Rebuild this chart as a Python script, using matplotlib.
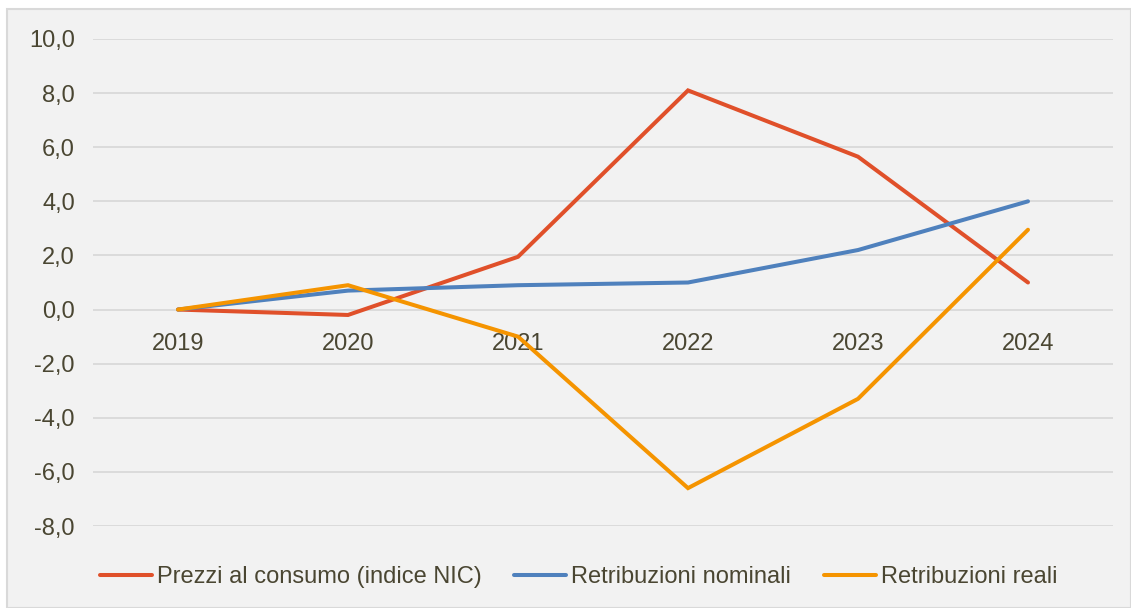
import matplotlib
matplotlib.use("Agg")
import matplotlib.pyplot as plt
from matplotlib.patches import Rectangle

years = ["2019", "2020", "2021", "2022", "2023", "2024"]
prezzi = [0.0, -0.2, 1.95, 8.1, 5.65, 1.0]
nominali = [0.0, 0.7, 0.9, 1.0, 2.2, 4.0]
reali = [0.0, 0.9, -1.0, -6.6, -3.3, 2.95]
series_names = ["Prezzi al consumo (indice NIC)", "Retribuzioni nominali", "Retribuzioni reali"]
yticks = [-8, -6, -4, -2, 0, 2, 4, 6, 8, 10]

plt.rcParams['font.family'] = ['Liberation Sans', 'DejaVu Sans']
txt = '#4a4632'
bg = '#f2f2f2'

fig = plt.figure(figsize=(11.31, 6.08), dpi=100)
fig.patch.set_facecolor('white')
fig.patches.append(Rectangle((7/1131, 0), 1 - 7/1131, 1 - 9/608, transform=fig.transFigure,
                             facecolor=bg, edgecolor='#d9d9d9', linewidth=1.5, zorder=-5))
ax = fig.add_axes([93/1131, 1 - 526/608, (1113 - 93)/1131, (526 - 39)/608])
ax.set_facecolor(bg)

x = list(range(len(years)))
colors = ['#e0502a', '#4f81bd', '#f59400']
for vals, c, name in zip([prezzi, nominali, reali], colors, series_names):
    ax.plot(x, vals, color=c, lw=2.9, solid_capstyle='round', solid_joinstyle='miter', label=name, zorder=3)

ax.set_xlim(-0.5, len(years) - 0.5)
ax.set_ylim(-8, 10)
ax.set_yticks(yticks)
ax.set_yticklabels([f"{v:.1f}".replace('.', ',') for v in yticks], color=txt, fontsize=17)
ax.grid(axis='y', color='#d7d7d7', lw=1.2, zorder=1)
for s in ['top', 'right', 'left']:
    ax.spines[s].set_visible(False)
ax.spines['bottom'].set_position(('data', 0))
ax.spines['bottom'].set_visible(False)
ax.set_xticks(x)
ax.set_xticklabels(years, color=txt, fontsize=17)
ax.tick_params(axis='both', length=0)
ax.tick_params(axis='x', pad=17)
ax.tick_params(axis='y', pad=13)

leg = fig.legend(loc='center', bbox_to_anchor=(578.5/1131, 1 - 577/608), ncol=3, frameon=False,
                 fontsize=17, handlelength=2.2, handletextpad=0.2, columnspacing=1.4)
for t in leg.get_texts():
    t.set_color(txt)

fig.savefig('out.png', dpi=100, facecolor=fig.get_facecolor())
